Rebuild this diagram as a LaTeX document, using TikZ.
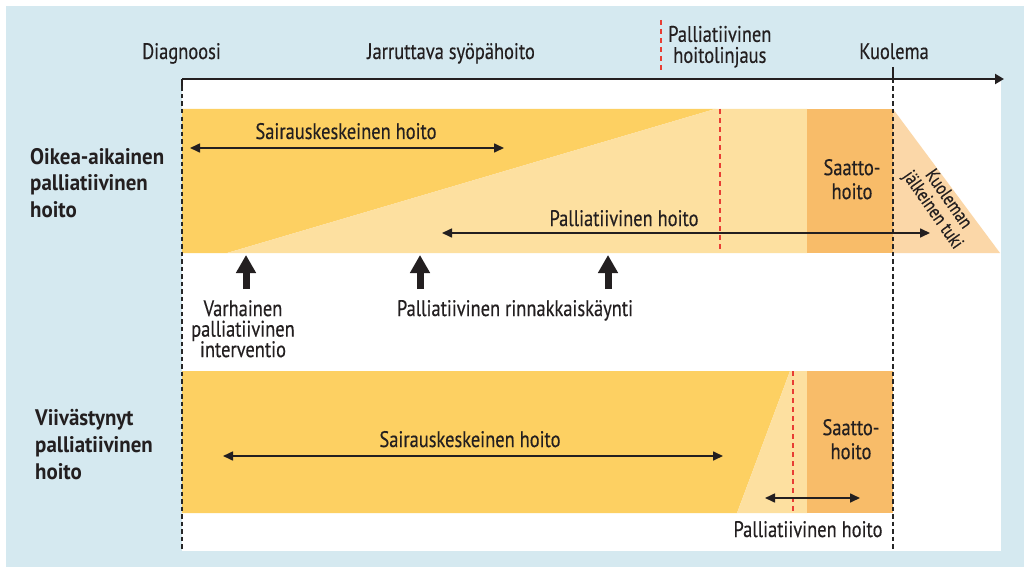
\documentclass[tikz,border=0pt]{standalone}
\usepackage{fontspec}
\setmainfont[FakeStretch=0.82, FakeBold=0.35, BoldFeatures={FakeStretch=0.93, FakeBold=0}]{PT Sans}
\usetikzlibrary{arrows.meta}
\definecolor{bgblue}{RGB}{213,233,240}
\definecolor{ydark}{RGB}{253,208,98}
\definecolor{ylight}{RGB}{253,224,160}
\definecolor{orng}{RGB}{248,188,105}
\definecolor{peach}{RGB}{251,215,168}
\definecolor{redd}{RGB}{232,62,52}
\definecolor{ink}{RGB}{35,31,32}
\tikzset{
  txt/.style={inner sep=0pt, text=ink, font=\fontsize{22.5}{24}\selectfont},
  lbl/.style={txt, anchor=base},
  rowlbl/.style={txt, align=left, anchor=west, font=\fontsize{22.5}{26.5}\selectfont\bfseries},
  blk/.style={black!85, line width=1.8pt, dash pattern=on 4.5pt off 3pt},
  reddash/.style={redd, line width=2.5pt, dash pattern=on 5pt off 4pt},
  dbl/.style={ink, line width=1.6pt, {Triangle[length=10pt,width=9pt]}-{Triangle[length=10pt,width=9pt]}},
  uparr/.style={ink, line width=7pt, -{Triangle[length=18pt,width=19pt]}},
}
\begin{document}
\begin{tikzpicture}[x=1pt,y=-1pt]
\useasboundingbox (0,0) rectangle (1024,567);
% backgrounds
\fill[bgblue] (6,6) rectangle (1024,567);
\fill[white] (182,79) rectangle (1001,551);
% row 1 bands
\fill[ydark] (182,109) -- (715,109) -- (227,253) -- (182,253) -- cycle;
\fill[ylight] (715,109) -- (807,109) -- (807,253) -- (227,253) -- cycle;
\fill[orng] (807,109) rectangle (893,253);
\fill[peach] (893,109) -- (1000,253) -- (893,253) -- cycle;
% row 2 bands
\fill[ydark] (182,371) -- (790,371) -- (737,513) -- (182,513) -- cycle;
\fill[ylight] (790,371) -- (807,371) -- (807,513) -- (737,513) -- cycle;
\fill[orng] (807,371) rectangle (893,513);
% red dashed lines
\coordinate (r0a) at (661,20); \coordinate (r0b) at (661,70);
\coordinate (r1a) at (720,109); \coordinate (r1b) at (720,251);
\coordinate (r2a) at (793,371); \coordinate (r2b) at (793,513);
\draw[reddash] (r0a) -- (r0b);
\draw[reddash] (r1a) -- (r1b);
\draw[reddash] (r2a) -- (r2b);
% timeline
\coordinate (ax0) at (182,79);
\coordinate (ax1) at (1004,79);
\coordinate (d0) at (182,551);
\coordinate (k0) at (893,67);
\coordinate (k1) at (893,79);
\coordinate (k2) at (893,551);
\draw[blk] (ax0) -- (d0);
\draw[blk] (k1) -- (k2);
\draw[ink, line width=1.8pt] (k0) -- (k1);
\draw[ink, line width=1.8pt] (182,86) -- (ax0);
\draw[ink, line width=2pt, -{Triangle[length=9pt,width=10pt]}] (ax0) -- (ax1);
% header labels
\node[lbl] (diag) at (181.5,59) {Diagnoosi};
\node[lbl] (jarr) at (451,59) {Jarruttava syöpähoito};
\node[lbl] (kuol) at (894,59) {Kuolema};
\node[txt, align=center, anchor=west, font=\fontsize{22.5}{21}\selectfont] (linj) at (668,46.75) {Palliatiivinen\\hoitolinjaus};
% row labels
\node[rowlbl] (oik) at (30,182.75) {Oikea-aikainen\\palliatiivinen\\hoito};
\node[rowlbl, font=\fontsize{22.5}{27}\selectfont\bfseries] (vii) at (35,444.25) {Viivästynyt\\palliatiivinen\\hoito};
% row 1 contents
\node[lbl] (sk1) at (346,139) {Sairauskeskeinen hoito};
\coordinate (sk1a) at (190,148); \coordinate (sk1b) at (504,148);
\draw[dbl] (sk1a) -- (sk1b);
\node[lbl] (ph1) at (624,226) {Palliatiivinen hoito};
\coordinate (ph1a) at (442,233); \coordinate (ph1b) at (930,233);
\draw[dbl] (ph1a) -- (ph1b);
\node[txt, align=center, font=\fontsize{22.5}{24}\selectfont] (sh1) at (852,179.25) {Saatto-\\hoito};
\node[txt, align=center, rotate=-55, font=\fontsize{19}{19}\selectfont] (kjt) at (940,205) {Kuoleman\\jälkeinen tuki};
% up arrows
\coordinate (u1a) at (246,289); \coordinate (u1b) at (246,255);
\coordinate (u2a) at (420,289); \coordinate (u2b) at (420,255);
\coordinate (u3a) at (608,289); \coordinate (u3b) at (608,255);
\draw[uparr] (u1a) -- (u1b);
\draw[uparr] (u2a) -- (u2b);
\draw[uparr] (u3a) -- (u3b);
\node[txt, align=center, font=\fontsize{22.5}{20.5}\selectfont] (varh) at (243,328.75) {Varhainen\\palliatiivinen\\interventio};
\node[lbl] (rinn) at (515,316) {Palliatiivinen rinnakkaiskäynti};
% row 2 contents
\node[lbl] (sk2) at (470,447) {Sairauskeskeinen hoito};
\coordinate (sk2a) at (223,456); \coordinate (sk2b) at (723,456);
\draw[dbl] (sk2a) -- (sk2b);
\node[txt, align=center, font=\fontsize{22.5}{24}\selectfont] (sh2) at (851,439.25) {Saatto-\\hoito};
\coordinate (ph2a) at (765,498); \coordinate (ph2b) at (860,498);
\draw[dbl] (ph2a) -- (ph2b);
\node[lbl] (ph2) at (808,537) {Palliatiivinen hoito};
\end{tikzpicture}
\end{document}
